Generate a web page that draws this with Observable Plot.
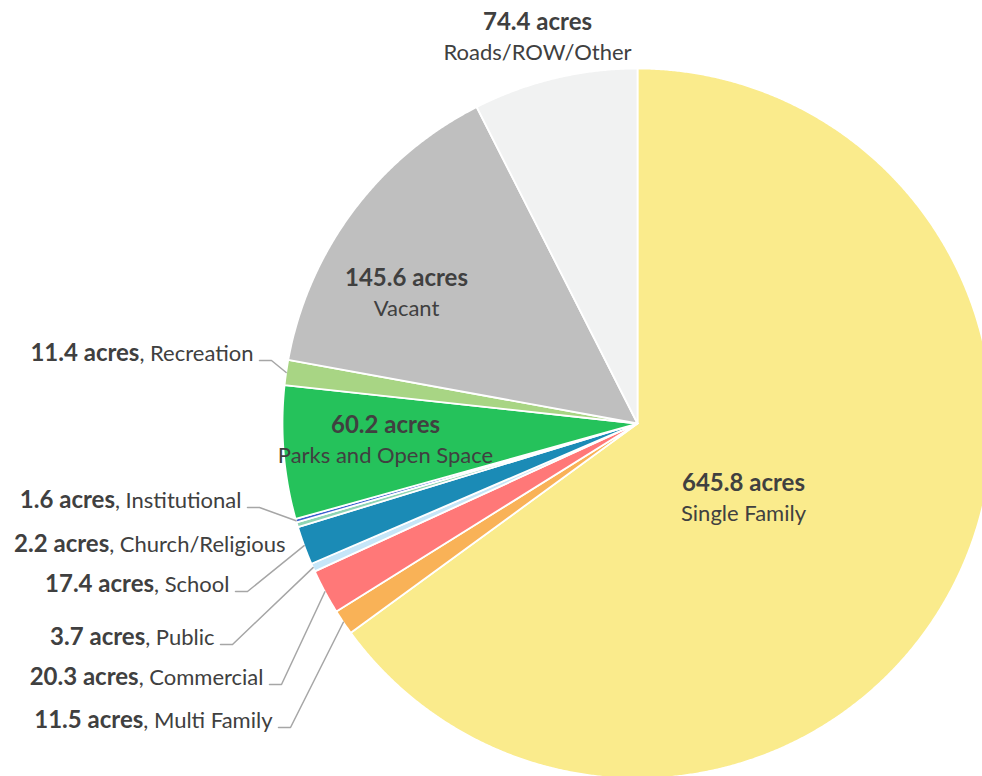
<!DOCTYPE html>
<html><head><meta charset="utf-8">
<script src="https://cdn.jsdelivr.net/npm/d3@7"></script>
<script src="https://cdn.jsdelivr.net/npm/@observablehq/plot@0.6"></script>
<style>
html,body{margin:0;padding:0;background:#fff;overflow:hidden;}
#chart svg{overflow:hidden;display:block;}
</style></head><body><div id="chart"></div>
<script>
// ---- data ----
const categories = ["Single Family","Multi Family","Commercial","Public","School","Church/Religious","Institutional","Parks and Open Space","Recreation","Vacant","Roads/ROW/Other"];
const acres = [645.8, 11.5, 20.3, 3.7, 17.4, 2.2, 1.6, 60.2, 11.4, 145.6, 74.4];
const colors = ["#FAEB8C","#F9B257","#FF7878","#C6E6F8","#1B8BB6","#8ED5B4","#3B5FD0","#25C25B","#A8D584","#BFBFBF","#F1F2F2"];
const valueLabels = acres.map(v => `${v.toFixed(1)} acres`);

// ---- layout (positions / styles) ----
const W = 982, H = 776, CX = 637, CY = 423, R = 355;
const FONT = "Lato, 'Open Sans', sans-serif", FS = 22, FSB = 24, TEXT = "#404040", LEADER = "#A6A6A6";
const labelLayout = {
  "Single Family":        {type: "inside",  x: 743, y: 498},
  "Parks and Open Space": {type: "inside",  x: 385, y: 440},
  "Vacant":               {type: "inside",  x: 406, y: 293},
  "Roads/ROW/Other":      {type: "inside",  x: 537, y: 37},
  "Recreation":           {type: "outside", x: 253, y: 353, leader: true},
  "Institutional":        {type: "outside", x: 241, y: 500, leader: true},
  "Church/Religious":     {type: "outside", x: 285, y: 544, leader: false},
  "School":               {type: "outside", x: 229, y: 584, leader: true},
  "Public":               {type: "outside", x: 214, y: 637, leader: true},
  "Commercial":           {type: "outside", x: 263, y: 677, leader: true},
  "Multi Family":         {type: "outside", x: 272, y: 720, leader: true}
};

const data = categories.map((name, i) => ({name, acres: acres[i], label: valueLabels[i]}));
const arcs = d3.pie().sort(null).value(d => d.acres).startAngle(0).endAngle(2 * Math.PI)(data);
const polar = (a, r) => ({x: CX + r * Math.sin(a), y: CY - r * Math.cos(a)});

// slice polygons
const slicePts = [];
for (const p of arcs) {
  const name = p.data.name;
  const n = Math.max(2, Math.ceil((p.endAngle - p.startAngle) / (Math.PI / 720)));
  slicePts.push({name, x: CX, y: CY});
  for (let i = 0; i <= n; i++) {
    const a = p.startAngle + (p.endAngle - p.startAngle) * i / n;
    slicePts.push({name, ...polar(a, R)});
  }
  slicePts.push({name, x: CX, y: CY});
}

// text measuring
const ctx = document.createElement("canvas").getContext("2d");
const measure = (s, weight, size) => { ctx.font = `${weight} ${size}px ${FONT}`; return ctx.measureText(s).width; };

const inside = [], outsideBold = [], outsideNormal = [], leaders = [];
for (const p of arcs) {
  const d = p.data, L = labelLayout[d.name];
  if (L.type === "inside") {
    inside.push({x: L.x, y: L.y - 15, text: d.label, weight: "bold"});
    inside.push({x: L.x, y: L.y + 15, text: d.name, weight: "normal"});
  } else {
    const rest = `, ${d.name}`;
    outsideNormal.push({x: L.x, y: L.y, text: rest});
    outsideBold.push({x: L.x - measure(rest, "normal", FS), y: L.y, text: d.label});
    if (L.leader) {
      const mid = (p.startAngle + p.endAngle) / 2;
      const rim = polar(mid, R);
      leaders.push({name: d.name, x: L.x + 6, y: L.y + 7});
      leaders.push({name: d.name, x: L.x + 18, y: L.y + 7});
      leaders.push({name: d.name, x: rim.x, y: rim.y});
    }
  }
}

const chart = Plot.plot({
  width: W, height: H,
  margin: 0,
  style: {background: "#fff", fontFamily: FONT, overflow: "hidden"},
  x: {domain: [0, W], range: [0, W], axis: null},
  y: {domain: [0, H], range: [0, H], axis: null},
  color: {type: "ordinal", domain: categories, range: colors},
  marks: [
    Plot.line(slicePts, {x: "x", y: "y", z: "name", fill: "name", stroke: "white", strokeWidth: 1.8, strokeLinejoin: "round", curve: "linear"}),
    Plot.line(leaders, {x: "x", y: "y", z: "name", stroke: LEADER, strokeWidth: 1.5, curve: "linear"}),
    Plot.text(inside.filter(d => d.weight === "bold"), {x: "x", y: "y", text: "text", fontSize: FSB, fontWeight: "bold", fontFamily: FONT, fill: TEXT, textAnchor: "middle"}),
    Plot.text(inside.filter(d => d.weight === "normal"), {x: "x", y: "y", text: "text", fontSize: FS, fontFamily: FONT, fill: TEXT, textAnchor: "middle"}),
    Plot.text(outsideBold, {x: "x", y: "y", text: "text", fontSize: FSB, fontWeight: "bold", fontFamily: FONT, fill: TEXT, textAnchor: "end"}),
    Plot.text(outsideNormal, {x: "x", y: "y", text: "text", fontSize: FS, fontFamily: FONT, fill: TEXT, textAnchor: "end"})
  ]
});
document.getElementById("chart").appendChild(chart);
</script>
</body></html>
